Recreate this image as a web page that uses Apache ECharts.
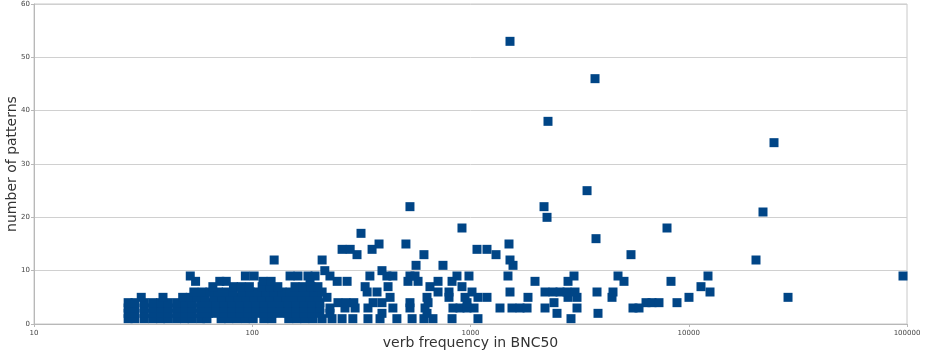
<!DOCTYPE html>
<html>
<head>
<meta charset="utf-8">
<script src="https://cdn.jsdelivr.net/npm/echarts@6/dist/echarts.min.js"></script>
<style>
html,body{margin:0;padding:0;background:#fff;}
#chart{width:926px;height:354px;}
</style>
</head>
<body>
<div id="chart"></div>
<script>
// verb frequencies (BNC50) grouped by number of patterns
const freqP1 = [27,29,32,35,38,41,45,49,53,58,62,72,78,85,93,101,113,123,147,160,174,190,209,232,258,289,339,385,460,540,612,673,823,1082,2887];
const freqP2 = [27,29,32,35,38,41,45,49,53,58,63,68,74,81,88,96,104,113,123,134,146,159,173,188,204,227,393,632,2491,3839];
const freqP3 = [27,29,32,35,38,41,45,49,53,58,63,68,74,81,88,96,104,113,123,134,146,159,173,188,204,227,266,296,339,441,528,619,831,895,964,1038,1365,1549,1686,1816,2195,3076,5553,5917];
const freqP4 = [27,29,32,35,38,41,45,49,53,58,63,68,74,81,88,96,104,113,123,134,146,159,173,188,204,247,269,292,358,393,528,639,964,2413,6371,6786,7305,8834];
const freqP5 = [31,39,48,52,56,61,67,73,79,86,94,102,111,121,131,143,155,169,184,200,220,428,632,797,944,1082,1190,1834,2798,3076,4450,10025,28501];
const freqP6 = [54,59,64,70,76,82,90,98,106,116,126,137,149,162,176,192,209,336,373,710,797,1016,1517,2195,2388,2571,2768,3012,3799,4497,12514];
const freqP7 = [66,82,89,97,111,121,131,157,171,186,200,329,419,652,914,11378];
const freqP8 = [55,71,76,112,122,184,245,272,517,575,710,823,1975,2798,5050,8292];
const freqP9 = [52,93,102,149,162,180,194,227,346,414,441,528,557,867,984,1485,2980,4741,12251,95873];
const freqP10 = [215,393];
const freqP11 = [563,748,1566];
const freqP12 = [126,209,1517,20330];
const freqP13 = [302,612,1309,5437];
const freqP14 = [258,281,354,1071,1190];
const freqP15 = [381,506,1501];
const freqP16 = [3759];
const freqP17 = [315];
const freqP18 = [914,7950];
const freqP20 = [2242];
const freqP21 = [21888];
const freqP22 = [528,2172];
const freqP25 = [3420];
const freqP34 = [24583];
const freqP38 = [2265];
const freqP46 = [3720];
const freqP53 = [1517];

const groups = [
  [1,freqP1],[2,freqP2],[3,freqP3],[4,freqP4],[5,freqP5],[6,freqP6],[7,freqP7],
  [8,freqP8],[9,freqP9],[10,freqP10],[11,freqP11],[12,freqP12],[13,freqP13],
  [14,freqP14],[15,freqP15],[16,freqP16],[17,freqP17],[18,freqP18],[20,freqP20],
  [21,freqP21],[22,freqP22],[25,freqP25],[34,freqP34],[38,freqP38],[46,freqP46],[53,freqP53]
];

const points = [];
groups.forEach(([n, fs]) => fs.forEach(f => points.push([f, n])));

const chart = echarts.init(document.getElementById('chart'), null, {renderer:'canvas'});
chart.setOption({
  animation: false,
  backgroundColor: '#ffffff',
  grid: {left: 34, right: 19, top: 4, bottom: 30, containLabel: false, outerBoundsMode: 'none',
         show: true, borderColor: '#c8c8c8', borderWidth: 1, backgroundColor: 'transparent'},
  xAxis: {
    type: 'log', logBase: 10, min: 10, max: 100000,
    name: 'verb frequency in BNC50', nameLocation: 'middle', nameGap: 12, nameMoveOverlap: false,
    nameTextStyle: {fontFamily: 'DejaVu Sans', fontSize: 14, color: '#333'},
    axisLine: {show: true, lineStyle: {color: '#b8b8b8'}},
    axisTick: {show: true, length: 3, lineStyle: {color: '#b8b8b8'}},
    minorTick: {show: false},
    axisLabel: {fontFamily: 'DejaVu Sans', fontSize: 7, color: '#444', margin: 6,
                formatter: v => String(Math.round(v))},
    splitLine: {show: false}
  },
  yAxis: {
    type: 'value', min: 0, max: 60, interval: 10,
    name: 'number of patterns', nameLocation: 'middle', nameGap: 15, nameRotate: 90, nameMoveOverlap: false,
    nameTextStyle: {fontFamily: 'DejaVu Sans', fontSize: 14, color: '#333'},
    axisLine: {show: true, lineStyle: {color: '#b8b8b8'}},
    axisTick: {show: true, length: 3, lineStyle: {color: '#b8b8b8'}},
    axisLabel: {fontFamily: 'DejaVu Sans', fontSize: 7, color: '#444', margin: 4},
    splitLine: {show: true, lineStyle: {color: '#d0d0d0', width: 1}}
  },
  series: [{
    type: 'scatter',
    symbol: 'rect',
    symbolSize: 9,
    itemStyle: {color: '#004586', opacity: 1},
    data: points
  }]
});
</script>
</body>
</html>
